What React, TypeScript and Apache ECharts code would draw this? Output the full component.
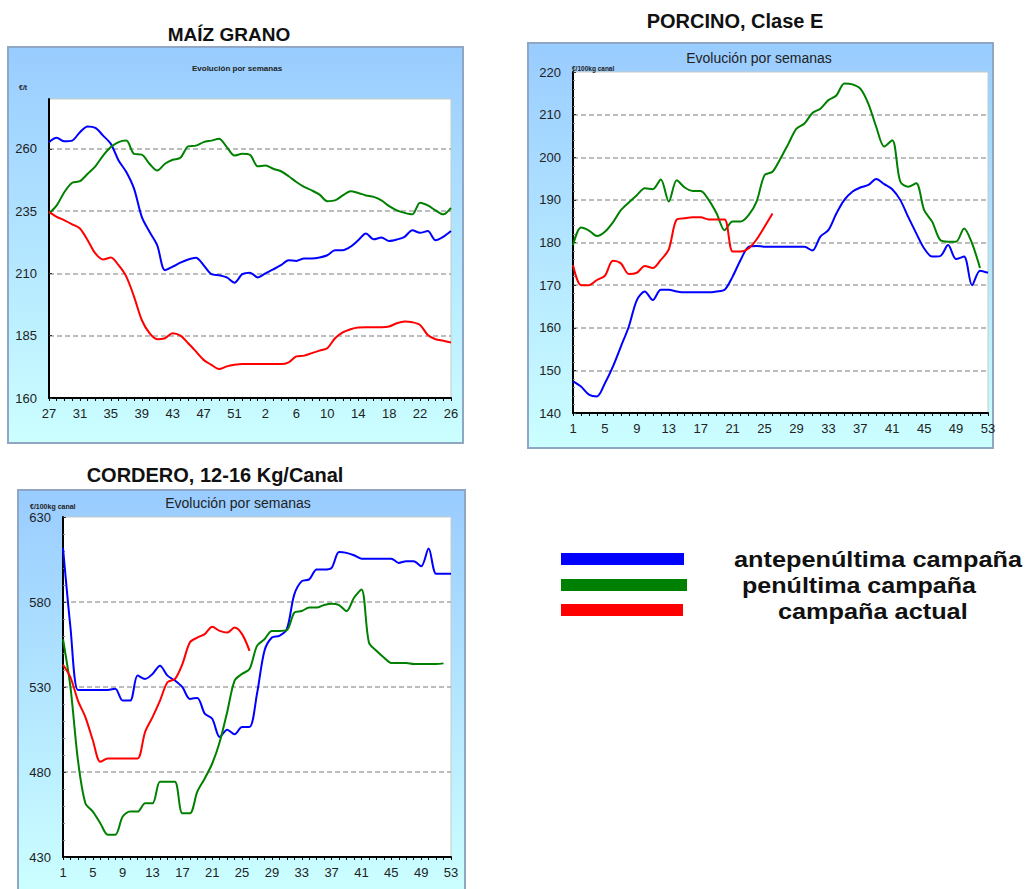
import React, { useEffect, useRef } from "react";
import * as echarts from "echarts";

const FONT = "'Liberation Sans', Arial, Helvetica, sans-serif";

// ---- MAÍZ GRANO (weeks 27..53, 1..26) ----
const maizWeeks = [
  "27","28","29","30","31","32","33","34","35","36","37","38","39","40","41","42","43","44","45","46","47","48","49","50","51","52","53",
  "1","2","3","4","5","6","7","8","9","10","11","12","13","14","15","16","17","18","19","20","21","22","23","24","25","26",
];
const maizAnte = [
  262.7,264.4,263,263.3,266.7,269,268.4,265.3,262,255.3,250.7,244,232.7,226.7,221.3,211.3,212.7,214.3,215.6,216.3,213.3,209.7,209.3,208.4,206.3,209.7,210.3,
  208.4,210,211.6,213.3,215.3,215,216,216,216.4,217.3,219.3,219.3,220.7,223.3,226,223.7,224.4,223,223.6,224.7,227.3,226.3,227,223.3,224.7,227,
];
const maizPen = [
  234,237.3,242.7,246.4,247,250,253,257.3,260.7,262.7,263.3,258,257.7,254,251.3,254,255.6,256.4,261,261.3,262.7,263.3,264,260.7,257.3,258,257.6,
  253,253.3,252,251,249,246.7,244.7,243.3,241.6,239,239.3,241.3,243,242.3,241.3,240.7,239.3,237,235.3,234.3,233.7,238.4,237.3,235.3,233.7,236.3,
];
const maizAct = [
  234.7,232.7,231.3,229.7,228,223.3,218,215.6,216.4,213.3,208.7,200.7,191.3,186,183.6,184,186,185,182,178.7,175.3,173.3,171.6,172.7,173.3,173.6,173.6,
  173.6,173.6,173.6,173.6,174.3,176.7,177,178,179,180,184,186.3,187.6,188.3,188.4,188.4,188.4,188.7,190,190.7,190.4,189.3,185.3,183.6,183,182.3,
];

// ---- weeks 1..53 ----
const weeks53 = [
  "1","2","3","4","5","6","7","8","9","10","11","12","13","14","15","16","17","18","19","20","21","22","23","24","25","26",
  "27","28","29","30","31","32","33","34","35","36","37","38","39","40","41","42","43","44","45","46","47","48","49","50","51","52","53",
];

// ---- PORCINO, Clase E ----
const porcAnte = [
  147.4,146.2,144.3,143.9,147,150.9,155.6,160.3,166.5,168.5,
  166.5,168.9,168.9,168.5,168.3,168.3,168.3,168.3,168.5,168.9,
  172,175.9,179,179.2,179,179,179,179,179,179,
  178.1,181.4,182.9,186.8,190,191.9,192.9,193.5,194.9,193.7,
  192.5,190,186,182.2,178.6,176.7,176.8,179.4,176.1,176.7,
  170,173.4,172.9,
];
const porcPen = [
  179.4,183.5,182.8,181.5,182.5,184.7,187.6,189.4,191.1,192.7,
  192.5,194.8,189.6,194.6,192.9,192.1,192.1,190,186.8,182.9,
  184.9,184.9,186.4,189.6,195.8,196.6,199.7,203.2,206.7,207.9,
  210.4,211.4,213.4,214.5,217.3,217.1,216.1,212.6,207.1,202.5,
  204,194.3,193.1,193.9,187.6,184.9,180.6,180.2,180.2,183.3,
  179.8,174,null,
];
const porcAct = [
  174.7,170,170,171.2,172.2,175.7,175.1,172.6,172.9,174.5,
  174,175.9,178.4,185.4,185.7,185.9,185.9,185.4,185.4,185.4,
  177.9,177.9,178.6,180.7,183.7,186.8,
];

// ---- CORDERO, 12-16 Kg/Canal ----
const cordAnte = [
  611.8,565,528.3,528.3,528.3,528.3,528.3,528.9,522,522,
  536.7,534.7,537.7,542.5,536.7,533.8,529.9,523,523.6,514.3,
  511.3,500.6,504.9,502.2,506.5,506.5,526,551.3,559.1,560.1,
  564,584.5,592.3,593.3,599.1,599.1,600.1,609.4,608.9,607.5,
  605.5,605.5,605.5,605.5,605.5,603,604,604,601,611.4,
  596.6,596.6,596.6,
];
const cordPen = [
  558.1,529.9,487,461.6,456.7,449.9,443.1,443.1,453.8,456.7,
  456.7,461.6,461.6,474.3,474.3,474.3,455.7,455.7,468.4,476.2,
  485,497.7,515.2,533.8,537.7,540.6,554.2,558.1,563,563,
  563.4,573.7,574.7,576.7,576.7,578.2,579,578.2,574.7,582.5,
  587.4,556.2,551.3,547.4,544.1,544.1,544.1,543.5,543.5,543.5,
  543.5,543.9,null,
];
const cordAct = [
  543.1,535.7,522,512.3,498.7,486,488,488,488,488,
  488,503.5,512.3,522,532.8,534.7,543.5,556.2,559.1,561.1,
  565.4,563,562,565,561.1,551.3,
];

const seriesNames = ["antepenúltima campaña", "penúltima campaña", "campaña actual"];
const seriesColors = ["#0000FF", "#008000", "#FF0000"];

function xCat(gridIndex: number, data: string[]) {
  return {
    type: "category",
    gridIndex,
    data,
    boundaryGap: false,
    axisLine: { show: true, lineStyle: { color: "#000", width: 2 } },
    axisTick: { show: true, interval: 0, length: 3, lineStyle: { color: "#000" } },
    axisLabel: { interval: 3, color: "#222", fontSize: 13, fontFamily: FONT, margin: 9 },
    splitLine: { show: false },
  };
}

function yVal(gridIndex: number, min: number, max: number, interval: number, showMax: boolean, minor: boolean) {
  return {
    type: "value",
    gridIndex,
    min,
    max,
    interval,
    axisLine: { show: true, lineStyle: { color: "#000", width: 2 } },
    axisTick: { show: true, inside: true, length: 3, lineStyle: { color: "#333" } },
    minorTick: { show: minor, splitNumber: 5, length: 2, lineStyle: { color: "#888" } },
    axisLabel: { color: "#222", fontSize: 13, fontFamily: FONT, margin: 12, showMaxLabel: showMax },
    splitLine: {
      show: true,
      showMinLine: false,
      showMaxLine: false,
      lineStyle: { type: [5, 3], color: "#a8a8a8", width: 1.5 },
    },
  };
}

function line(idx: number, data: (number | null)[], k: number) {
  return {
    type: "line",
    name: seriesNames[k],
    xAxisIndex: idx,
    yAxisIndex: idx,
    data,
    smooth: 0.3,
    symbol: "none",
    connectNulls: false,
    lineStyle: { color: seriesColors[k], width: 2 },
    itemStyle: { color: seriesColors[k] },
    z: 3 + k,
  };
}

const panelFill = {
  type: "linear",
  x: 0,
  y: 0,
  x2: 0,
  y2: 1,
  colorStops: [
    { offset: 0, color: "#99CCFF" },
    { offset: 1, color: "#CCFFFF" },
  ],
};

function panel(x: number, y: number, w: number, h: number) {
  return {
    type: "rect",
    z: -10,
    shape: { x, y, width: w, height: h },
    style: { fill: panelFill, stroke: "#8FA6C4", lineWidth: 2 },
  };
}

function txt(
  text: string, x: number, y: number, size: number, weight: string,
  align: string, scaleX = 1, color = "#111"
) {
  return {
    type: "text",
    x,
    y,
    scaleX,
    z: 50,
    style: {
      text,
      font: `${weight} ${size}px ${FONT}`,
      fontSize: size,
      fontWeight: weight,
      fontFamily: FONT,
      fill: color,
      align,
      textAlign: align,
      verticalAlign: "middle",
      textVerticalAlign: "middle",
    },
  };
}

function legendBar(y: number, w: number, color: string) {
  return {
    type: "rect",
    z: 10,
    shape: { x: 561, y, width: w, height: 12 },
    style: { fill: color },
  };
}

export default function App() {
  const ref = useRef<HTMLDivElement>(null);
  useEffect(() => {
    if (!ref.current) return;
    const chart = echarts.init(ref.current, null, { renderer: "svg" });
    const gridBase = {
      show: true,
      backgroundColor: "#ffffff",
      borderColor: "#c4ccc4",
      borderWidth: 1,
      containLabel: false,
      outerBoundsMode: "none",
    };
    chart.setOption({
      animation: false,
      backgroundColor: "#ffffff",
      grid: [
        { ...gridBase, left: 49, top: 99, width: 402, height: 299 },
        { ...gridBase, left: 573, top: 72, width: 415, height: 341 },
        { ...gridBase, left: 63, top: 517, width: 388, height: 340 },
      ],
      xAxis: [xCat(0, maizWeeks), xCat(1, weeks53), xCat(2, weeks53)],
      yAxis: [
        yVal(0, 160, 280, 25, false, false),
        yVal(1, 140, 220, 10, true, true),
        yVal(2, 430, 630, 50, true, true),
      ],
      series: [
        line(0, maizAnte, 0),
        line(0, maizPen, 1),
        line(0, maizAct, 2),
        line(1, porcAnte, 0),
        line(1, porcPen, 1),
        line(1, porcAct, 2),
        line(2, cordAnte, 0),
        line(2, cordPen, 1),
        line(2, cordAct, 2),
      ],
      graphic: [
        {
          type: "group",
          z: -10,
          children: [
            panel(8, 47, 455, 396),
            panel(528, 43, 465, 405),
            panel(18, 490, 447, 402),
          ],
        },
        {
          type: "group",
          z: 50,
          children: [
            txt("MAÍZ GRANO", 229, 34, 19, "bold", "center"),
            txt("PORCINO, Clase E", 735, 21, 20, "bold", "center"),
            txt("CORDERO, 12-16 Kg/Canal", 215, 475, 20, "bold", "center", 1.0),
            txt("Evolución por semanas", 237, 69, 7, "bold", "center", 1.15, "#222"),
            txt("Evolución por semanas", 759, 58, 14, "normal", "center", 1, "#222"),
            txt("Evolución por semanas", 238, 503, 14, "normal", "center", 1, "#222"),
            txt("€/t", 19, 87, 7, "bold", "left", 1, "#222"),
            txt("€/100kg canal", 572, 68, 6.5, "bold", "left", 1, "#222"),
            txt("€/100kg canal", 30, 506, 7, "bold", "left", 1, "#222"),
            legendBar(553, 123, seriesColors[0]),
            legendBar(579, 126, seriesColors[1]),
            legendBar(604, 122, seriesColors[2]),
            txt(seriesNames[0], 734, 560, 22, "bold", "left", 1.15),
            txt(seriesNames[1], 742, 586, 22, "bold", "left", 1.14),
            txt(seriesNames[2], 778, 612, 22, "bold", "left", 1.15),
          ],
        },
      ],
    });
    return () => chart.dispose();
  }, []);
  return (
    <div
      ref={ref}
      style={{ position: "absolute", left: 0, top: 0, width: 1026, height: 889 }}
    />
  );
}
